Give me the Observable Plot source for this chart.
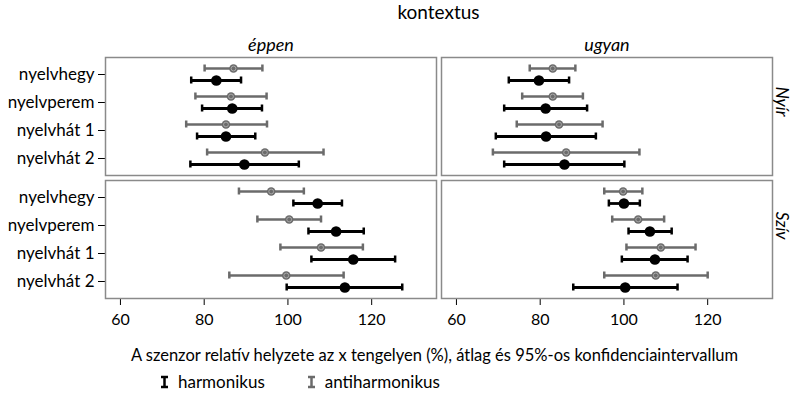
<!DOCTYPE html>
<html><head><meta charset="utf-8">
<script src="https://cdn.jsdelivr.net/npm/d3@7"></script>
<script src="https://cdn.jsdelivr.net/npm/@observablehq/plot@0.6"></script>
<style>
body{margin:0;background:#fff;font-family:Lato,sans-serif;color:#000;}
#title{box-sizing:border-box;width:793px;padding:0 20px 0 104px;text-align:center;font-size:19px;height:24px;line-height:24px;}
#xlabel{box-sizing:border-box;width:793px;padding:0 28px 0 104px;text-align:center;font-size:16.5px;height:30px;line-height:30px;}
#legend{height:23px;display:flex;align-items:center;font-size:17px;padding-left:160px;}
#legend .item{display:flex;align-items:center;margin-right:42px;}
#legend svg{margin-right:9px;}
</style></head><body>
<div id="title">kontextus</div>
<div id="chart"></div>
<div id="xlabel">A szenzor relatív helyzete az x tengelyen (%), átlag és 95%-os konfidenciaintervallum</div>
<div id="legend"></div>
<script>
const categories = ["nyelvhegy", "nyelvperem", "nyelvhát 1", "nyelvhát 2"];
const contexts = ["éppen", "ugyan"];
const speakers = ["Nyír", "Szív"];
const seriesNames = ["harmonikus", "antiharmonikus"];
const seriesColors = ["#000000", "#6b6b6b"];
const xTicks = [60, 80, 100, 120];
// panel order: éppen/Nyír, ugyan/Nyír, éppen/Szív, ugyan/Szív ; 4 categories each
const panelContext = ["éppen", "ugyan", "éppen", "ugyan"];
const panelSpeaker = ["Nyír", "Nyír", "Szív", "Szív"];
const harmLo   = [76.9, 79.5, 78.3, 76.7,   72.5, 71.4, 69.4, 71.4,   101.3, 104.9, 105.6, 99.7,   96.4, 101.1, 99.5, 87.9];
const harmMean = [82.9, 86.7, 85.2, 89.6,   79.7, 81.3, 81.4, 85.8,   107.1, 111.5, 115.6, 113.6,  100.0, 106.2, 107.4, 100.3];
const harmHi   = [88.8, 93.8, 92.2, 102.6,  86.9, 91.2, 93.3, 100.1,  112.9, 118.1, 125.6, 127.3,  103.8, 111.4, 115.2, 112.8];
const antiLo   = [80.1, 77.9, 75.7, 80.7,   77.5, 75.7, 74.4, 68.7,   88.3, 92.7, 98.2, 86.0,      95.3, 97.2, 100.6, 95.3];
const antiMean = [87.0, 86.4, 85.2, 94.5,   83.0, 83.0, 84.5, 86.2,   96.0, 100.3, 107.9, 99.6,    99.8, 103.4, 108.8, 107.6];
const antiHi   = [93.9, 94.9, 95.0, 108.5,  88.4, 90.2, 94.9, 103.7,  103.8, 107.9, 117.9, 113.3,  104.4, 109.6, 117.1, 120.0];

function build(lo, mean, hi) {
  const rows = [];
  for (let p = 0; p < 4; p++) {
    for (let c = 0; c < 4; c++) {
      const i = p * 4 + c;
      rows.push({ctx: panelContext[p], spk: panelSpeaker[p], cat: categories[c], lo: lo[i], mean: mean[i], hi: hi[i]});
    }
  }
  return rows;
}
const harm = build(harmLo, harmMean, harmHi);
const anti = build(antiLo, antiMean, antiHi);

const common = {y: "cat", fx: "ctx", fy: "spk"};
const capInset = 10.5;

const chart = Plot.plot({
  width: 793,
  height: 316,
  marginLeft: 104,
  marginRight: 20,
  marginTop: 33,
  marginBottom: 42,
  style: {fontFamily: "Lato, sans-serif", fontSize: "16px", color: "#000", background: "#fff"},
  x: {domain: [56.43, 135.48], ticks: xTicks, tickSize: 7, tickPadding: 8, label: null},
  y: {type: "band", domain: categories, paddingInner: 0, paddingOuter: 0.1, tickSize: 7, tickPadding: 4, label: null},
  fx: {domain: contexts, paddingInner: 0.0148, paddingOuter: 0, axis: null, label: null},
  fy: {domain: speakers, paddingInner: 0.0407, paddingOuter: 0, axis: null, label: null},
  marks: [
    Plot.frame({stroke: "#8a8a8a", strokeWidth: 1.5}),
    // antiharmonikus (upper)
    Plot.ruleY(anti, {...common, x1: "lo", x2: "hi", stroke: seriesColors[1], strokeWidth: 2.5, dy: -6}),
    Plot.tickX(anti, {...common, x: "lo", stroke: seriesColors[1], strokeWidth: 2.5, insetTop: capInset, insetBottom: capInset, dy: -6}),
    Plot.tickX(anti, {...common, x: "hi", stroke: seriesColors[1], strokeWidth: 2.5, insetTop: capInset, insetBottom: capInset, dy: -6}),
    Plot.dot(anti, {...common, x: "mean", r: 4.3, fill: seriesColors[1], stroke: "none", dy: -6}),
    Plot.dot(anti, {...common, x: "mean", r: 2.4, fill: "none", stroke: "#a8a8a8", strokeWidth: 1, dy: -6}),
    // harmonikus (lower)
    Plot.ruleY(harm, {...common, x1: "lo", x2: "hi", stroke: seriesColors[0], strokeWidth: 2.8, dy: 6}),
    Plot.tickX(harm, {...common, x: "lo", stroke: seriesColors[0], strokeWidth: 2.5, insetTop: capInset, insetBottom: capInset, dy: 6}),
    Plot.tickX(harm, {...common, x: "hi", stroke: seriesColors[0], strokeWidth: 2.5, insetTop: capInset, insetBottom: capInset, dy: 6}),
    Plot.dot(harm, {...common, x: "mean", r: 5.3, fill: seriesColors[0], stroke: "none", dy: 6}),
    // facet labels
    Plot.text(contexts.map(c => ({ctx: c, spk: speakers[0]})), {fx: "ctx", fy: "spk", text: "ctx", frameAnchor: "top", dy: -19, fontStyle: "italic", fontSize: 18}),
    Plot.text(speakers.map(s => ({ctx: contexts[1], spk: s})), {fx: "ctx", fy: "spk", text: "spk", frameAnchor: "right", dx: 9, rotate: 90, fontStyle: "italic", fontSize: 17})
  ]
});
chart.querySelectorAll('g[aria-label="y-axis tick label"]').forEach(g => g.setAttribute("font-size", "17"));
document.getElementById("chart").appendChild(chart);

const legend = document.getElementById("legend");
seriesNames.forEach((name, i) => {
  const item = document.createElement("div");
  item.className = "item";
  item.innerHTML = `<svg width="9" height="14"><line x1="4.5" y1="2" x2="4.5" y2="12" stroke="${seriesColors[i]}" stroke-width="2.5"/><line x1="1" y1="2" x2="8" y2="2" stroke="${seriesColors[i]}" stroke-width="2.5"/><line x1="1" y1="12" x2="8" y2="12" stroke="${seriesColors[i]}" stroke-width="2.5"/></svg><span>${name}</span>`;
  legend.appendChild(item);
});
</script>
</body></html>
